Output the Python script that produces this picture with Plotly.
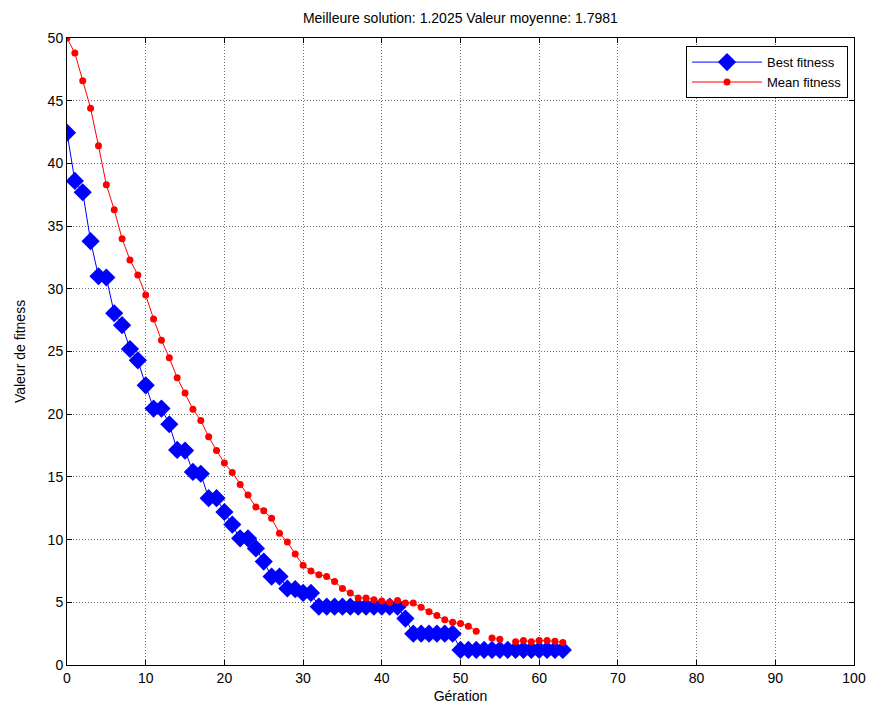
import plotly.graph_objects as go

generations = list(range(64))

best_fitness = [
    42.45, 38.6, 37.7, 33.8, 31.0, 30.9, 28.05, 27.1, 25.2, 24.3,
    22.3, 20.45, 20.45, 19.2, 17.15, 17.1, 15.4, 15.25, 13.3, 13.3,
    12.2, 11.2, 10.1, 10.1, 9.3, 8.25, 7.05, 7.05, 6.1, 6.05,
    5.75, 5.75, 4.65, 4.65, 4.65, 4.65, 4.65, 4.65, 4.65, 4.65,
    4.65, 4.65, 4.65, 3.7, 2.5, 2.5, 2.5, 2.5, 2.5, 2.5,
    1.2025, 1.2025, 1.2025, 1.2025, 1.2025, 1.2025, 1.2025, 1.2025, 1.2025, 1.2025,
    1.2025, 1.2025, 1.2025, 1.2025,
]

mean_fitness = [
    50.0, 48.8, 46.6, 44.4, 41.4, 38.3, 36.3, 34.0, 32.3, 31.1,
    29.5, 27.6, 25.9, 24.5, 22.9, 21.7, 20.4, 19.5, 18.2, 17.1,
    16.1, 15.35, 14.4, 13.55, 12.6, 12.3, 11.7, 10.5, 9.8, 8.85,
    7.95, 7.5, 7.2, 7.05, 6.65, 6.1, 5.75, 5.35, 5.35, 5.2,
    5.1, 5.0, 5.15, 4.95, 4.95, 4.6, 4.25, 3.95, 3.6, 3.4,
    3.3, 3.1, 2.7, None, 2.15, 2.05, None, 1.85, 1.95, 1.85,
    1.95, 1.95, 1.9, 1.7981,
]

x_ticks = [0, 10, 20, 30, 40, 50, 60, 70, 80, 90, 100]
y_ticks = [0, 5, 10, 15, 20, 25, 30, 35, 40, 45, 50]

title_text = "Meilleure solution: 1.2025 Valeur moyenne: 1.7981"

FONT = "Liberation Sans, Arial, sans-serif"

fig = go.Figure()
fig.add_trace(go.Scatter(
    x=generations, y=best_fitness, name="Best fitness",
    mode="lines+markers",
    line=dict(color="#0000ff", width=1),
    marker=dict(symbol="diamond", size=14, color="#0000ff", line=dict(width=0)),
))
fig.add_trace(go.Scatter(
    x=generations, y=mean_fitness, name="Mean fitness",
    mode="lines+markers", connectgaps=False,
    line=dict(color="#ff0000", width=1),
    marker=dict(symbol="circle", size=7, color="#ff0000", line=dict(width=0)),
))

axis_common = dict(
    showline=True, linecolor="black", linewidth=1, mirror="ticks",
    ticks="inside", ticklen=5, tickcolor="black", tickwidth=1,
    showgrid=True, gridcolor="#707070", griddash="1px,2px", gridwidth=1,
    zeroline=False,
    tickfont=dict(family=FONT, size=14, color="black"),
)

fig.update_layout(
    width=870, height=709,
    margin=dict(l=56, r=18, t=30, b=52),
    paper_bgcolor="white", plot_bgcolor="white",
    title=dict(text=title_text, x=0.52, xanchor="center", y=0.986, yanchor="middle",
               font=dict(family=FONT, size=14, color="black")),
    xaxis=dict(range=[0, 100], tickvals=x_ticks,
               title=dict(text="Gération", font=dict(family=FONT, size=14, color="black"), standoff=6),
               **axis_common),
    yaxis=dict(range=[0, 50], tickvals=y_ticks,
               title=dict(text="Valeur de fitness", font=dict(family=FONT, size=14, color="black"), standoff=18),
               **axis_common),
    legend=dict(x=0.9924, y=0.987, xanchor="right", yanchor="top",
                bgcolor="white", bordercolor="black", borderwidth=1,
                font=dict(family=FONT, size=13, color="black"),
                itemwidth=70, tracegroupgap=2),
    showlegend=True,
)

fig.write_html("out.html")
